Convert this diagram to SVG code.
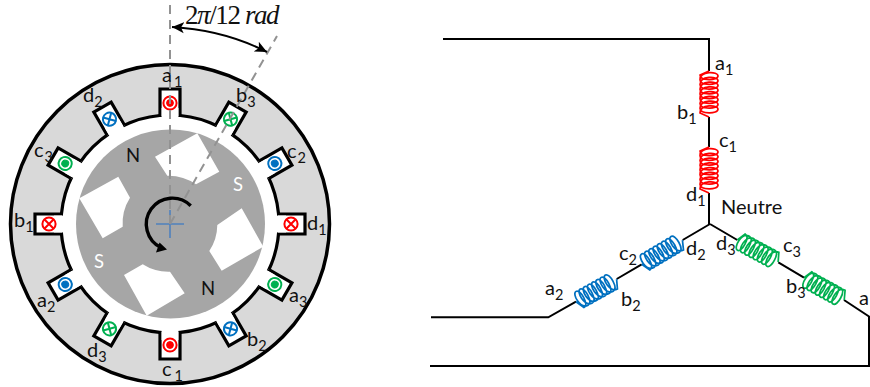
<svg xmlns="http://www.w3.org/2000/svg" width="870" height="387" viewBox="0 0 870 387">
<style>
text{font-family:Lato,"Liberation Sans",sans-serif;font-size:20px;fill:#111}
.s{font-size:14.5px}
.p{font-size:18.5px}
.w{fill:#fff}
.wire{fill:none;stroke:#000;stroke-width:2}
.coil{fill:none;stroke-width:1.7}
.red{stroke:#f00;color:#f00}.blue{stroke:#0070c0;color:#0070c0}.green{stroke:#00b050;color:#00b050}
.slot{fill:#fff;stroke:#000;stroke-width:3.2}
.dash{fill:none;stroke:#929292;stroke-width:2;stroke-dasharray:9 6}
.dim{fill:none;stroke:#000;stroke-width:2;marker-start:url(#ah);marker-end:url(#ah)}
.math{font-family:"Liberation Serif",serif;font-size:27px;letter-spacing:-1.4px;fill:#111}
</style>
<defs>
<marker id="ah" markerUnits="userSpaceOnUse" markerWidth="14" markerHeight="12" refX="12" refY="6" orient="auto-start-reverse"><path d="M0,0.5 L12,6 L0,11.5 L3,6Z" fill="#000"/></marker>
<path id="coilp" d="M0,0L4,9c6,0 6,-18 1,-18c-5,0 -5,18 3.75,18c6,0 6,-18 1,-18c-5,0 -5,18 3.75,18c6,0 6,-18 1,-18c-5,0 -5,18 3.75,18c6,0 6,-18 1,-18c-5,0 -5,18 3.75,18c6,0 6,-18 1,-18c-5,0 -5,18 3.75,18c6,0 6,-18 1,-18c-5,0 -5,18 3.75,18c6,0 6,-18 1,-18c-5,0 -5,18 3.75,18c6,0 6,-18 1,-18c-5,0 -5,18 3.75,18L46,0"/>
<g id="slot"><path class="slot" d="M160,116V89H180V116"/><rect x="161.6" y="108" width="16.8" height="10" fill="#fff"/></g>
<g id="dot"><circle cx="170" cy="103" r="6.6" fill="#fff" stroke="currentColor" stroke-width="2"/><circle cx="170" cy="103" r="3.4" fill="currentColor"/></g>
<g id="cross"><circle cx="170" cy="103" r="6.6" fill="#fff" stroke="currentColor" stroke-width="2"/><path d="M165.3,98.3L174.7,107.7M174.7,98.3L165.3,107.7" stroke="currentColor" stroke-width="2"/></g>
</defs>

<g id="stator">
<circle cx="170" cy="224" r="159.5" fill="#d9d9d9" stroke="#000" stroke-width="3.5"/>
<circle cx="170" cy="224" r="109" fill="#fff" stroke="#000" stroke-width="3.2"/>
<use href="#slot"/>
<use href="#slot" transform="rotate(30 170 224)"/>
<use href="#slot" transform="rotate(60 170 224)"/>
<use href="#slot" transform="rotate(90 170 224)"/>
<use href="#slot" transform="rotate(120 170 224)"/>
<use href="#slot" transform="rotate(150 170 224)"/>
<use href="#slot" transform="rotate(180 170 224)"/>
<use href="#slot" transform="rotate(210 170 224)"/>
<use href="#slot" transform="rotate(240 170 224)"/>
<use href="#slot" transform="rotate(270 170 224)"/>
<use href="#slot" transform="rotate(300 170 224)"/>
<use href="#slot" transform="rotate(330 170 224)"/>
</g>
<g id="conductors">
<use href="#dot" class="red"/>
<use href="#cross" class="green" transform="rotate(30 170 224)"/>
<use href="#dot" class="blue" transform="rotate(60 170 224)"/>
<use href="#cross" class="red" transform="rotate(90 170 224)"/>
<use href="#dot" class="green" transform="rotate(120 170 224)"/>
<use href="#cross" class="blue" transform="rotate(150 170 224)"/>
<use href="#dot" class="red" transform="rotate(180 170 224)"/>
<use href="#cross" class="green" transform="rotate(210 170 224)"/>
<use href="#dot" class="blue" transform="rotate(240 170 224)"/>
<use href="#cross" class="red" transform="rotate(270 170 224)"/>
<use href="#dot" class="green" transform="rotate(300 170 224)"/>
<use href="#cross" class="blue" transform="rotate(330 170 224)"/>
</g>
<g id="rotor">
<circle cx="170.5" cy="224" r="94.5" fill="#a6a6a6"/>
<path class="w" d="M155,156.7L197.3,133.3L219.3,171.7L196,184.3A48,48 0 0 0 167.3,175.7Z"/>
<path class="w" d="M79.3,198.3L118.3,176.7L130,197.7A48,48 0 0 0 122.7,226.7L102.7,238.3Z"/>
<path class="w" d="M241.7,208.3L263.3,246.7L221.7,270.7L209.3,251A48,48 0 0 0 217.3,225Z"/>
<path class="w" d="M124,275L142.7,264.3A48,48 0 0 0 170,271.7L184.7,293.3L146.7,315.7Z"/>
<text class="p" x="126" y="162">N</text>
<text class="p" x="201" y="295">N</text>
<text class="w p" x="233" y="191">S</text>
<text class="w p" x="94" y="268">S</text>
</g>
<g id="angle">
<path d="M156,224H184M170,210V238" stroke="#4f81bd" stroke-width="1.6" fill="none"/>
<path class="dash" d="M170,224V3"/>
<path class="dash" d="M170,224L277,36"/>
<path class="dim" d="M172,27Q224,30 267,52"/>
<path d="M190.7,205.7A26,26 0 1 0 161,247.5" fill="none" stroke="#000" stroke-width="3.4"/>
<polygon points="167,249.5 156,252.5 159.5,242.5"/>
<text class="math" x="185" y="24">2<tspan font-style="italic">π</tspan>/12 <tspan font-style="italic">rad</tspan></text>
</g>

<g id="connectors">
<path class="wire" d="M443,39H709V71M709,117V147M709,193V224"/>
<path class="wire" d="M710,224L682.7,240M641.7,264.3L616.7,279M576,301.7L548.3,317.3H431"/>
<path class="wire" d="M710,224L737.3,240M778.3,262.3L804,277.7M844,300L869,316.5V366H430"/>
</g>
<g id="coil-a"><use href="#coilp" class="coil red" transform="translate(709,71) rotate(90)"/><use href="#coilp" class="coil red" transform="translate(709,147) rotate(90)"/></g>
<g id="coil-b"><use href="#coilp" class="coil blue" transform="translate(576,301.7) rotate(-29.1) scale(1.01,1)"/><use href="#coilp" class="coil blue" transform="translate(641.7,264.3) rotate(-30.7) scale(1.03,1)"/></g>
<g id="coil-c"><use href="#coilp" class="coil green" transform="translate(737.3,240) rotate(28.5) scale(1.01,-1)"/><use href="#coilp" class="coil green" transform="translate(804,277.7) rotate(29) scale(1,-1)"/></g>

<g id="stator-labels">
<text x="162" y="82">a<tspan class="s" dx="2" dy="5">1</tspan></text>
<text x="83" y="102">d<tspan class="s" dy="5">2</tspan></text>
<text x="34" y="157">c<tspan class="s" dx="1" dy="5">3</tspan></text>
<text x="236" y="102">b<tspan class="s" dy="5">3</tspan></text>
<text x="287" y="158">c<tspan class="s" dx="1" dy="5">2</tspan></text>
<text x="14" y="227">b<tspan class="s" dy="5">1</tspan></text>
<text x="37" y="307">a<tspan class="s" dy="5">2</tspan></text>
<text x="87" y="357">d<tspan class="s" dy="5">3</tspan></text>
<text x="162" y="376">c<tspan class="s" dx="3" dy="5">1</tspan></text>
<text x="307" y="230">d<tspan class="s" dy="5">1</tspan></text>
<text x="289" y="302">a<tspan class="s" dy="5">3</tspan></text>
<text x="247" y="346">b<tspan class="s" dy="5">2</tspan></text>
</g>
<g id="winding-labels">
<text x="715" y="70">a<tspan class="s" dy="5">1</tspan></text>
<text x="677" y="119">b<tspan class="s" dy="5">1</tspan></text>
<text x="719" y="147">c<tspan class="s" dy="5">1</tspan></text>
<text x="686" y="201">d<tspan class="s" dy="5">1</tspan></text>
<text x="721" y="214">Neutre</text>
<text x="545" y="295">a<tspan class="s" dy="5">2</tspan></text>
<text x="619" y="260">c<tspan class="s" dy="5">2</tspan></text>
<text x="686" y="255">d<tspan class="s" dy="5">2</tspan></text>
<text x="621" y="306">b<tspan class="s" dy="5">2</tspan></text>
<text x="716" y="250">d<tspan class="s" dy="5">3</tspan></text>
<text x="783" y="252">c<tspan class="s" dy="5">3</tspan></text>
<text x="786" y="293">b<tspan class="s" dy="5">3</tspan></text>
<text x="859" y="305">a</text>
</g>
</svg>
